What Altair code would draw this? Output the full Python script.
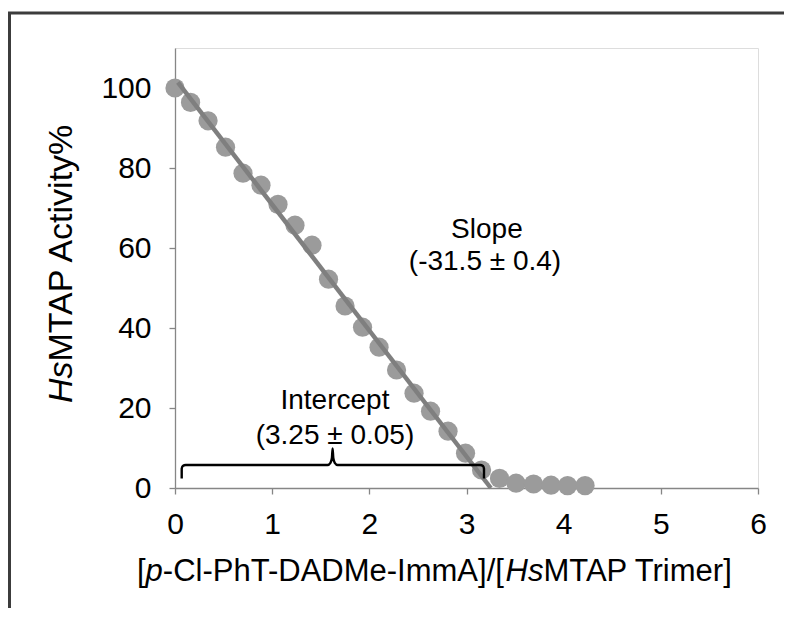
import altair as alt
import pandas as pd

# ---- data ----
ratio_x = [0, 0.16, 0.34, 0.52, 0.70, 0.885, 1.06, 1.235, 1.41, 1.58, 1.75, 1.93,
           2.10, 2.28, 2.46, 2.63, 2.81, 2.99, 3.155, 3.34, 3.51, 3.69, 3.87, 4.04, 4.22]
activity = [100, 96.4, 91.8, 85.2, 78.7, 75.7, 70.9, 65.7, 60.7, 52.2, 45.5, 40.2,
            35.2, 29.5, 23.7, 19.2, 14.2, 8.7, 4.5, 2.4, 1.2, 1.0, 0.7, 0.6, 0.6]
fit_x = [0.03, 3.25]
fit_y = [101.4, 0]
x_ticks = [0, 1, 2, 3, 4, 5, 6]
y_ticks = [0, 20, 40, 60, 80, 100]
bracket_x = [0.069, 0.069, 0.080, 0.11, 1.57, 1.60, 1.615, 1.622, 1.629, 1.644, 1.674,
             3.14, 3.17, 3.18, 3.18]
bracket_y = [2.4, 4.8, 5.5, 5.75, 5.75, 6.3, 7.5, 9.9, 7.5, 6.3, 5.75, 5.75, 5.5, 4.8, 2.4]
note_text = ["Slope", "(-31.5 \u00b1 0.4)", "Intercept", "(3.25 \u00b1 0.05)"]
note_x = [3.21, 3.19, 1.646, 1.646]
note_y = [64.5, 56.5, 21.75, 13.0]
x_title_parts = ["[", "p", "-Cl-PhT-DADMe-ImmA]/[", "Hs", "MTAP Trimer]"]
x_title_italic = [False, True, False, True, False]
y_title_parts = ["Hs", "MTAP Activity%"]
y_title_italic = [True, False]

FONT = "Liberation Sans, Arial, Helvetica, sans-serif"
W, H = 583, 440

# Arial advance widths (per 1000 em) for text layout of mixed-style titles
AW = {"[": 278, "]": 278, "/": 278, "-": 333, " ": 278, "%": 889, "A": 667, "C": 722,
      "D": 722, "H": 722, "I": 278, "M": 833, "P": 667, "T": 611, "c": 500, "e": 556,
      "h": 556, "i": 222, "l": 222, "m": 833, "p": 556, "r": 333, "s": 500, "t": 278,
      "v": 500, "y": 500}


def tw(s, size):
    return sum(AW.get(ch, 556) for ch in s) * size / 1000.0


# x title segments (horizontal)
XT_SIZE = 31
xt_start = -38
xt_y = 524
xt_rows = []
cur = xt_start
for part, it in zip(x_title_parts, x_title_italic):
    xt_rows.append({"t": part, "px": cur, "py": xt_y, "it": it})
    cur += tw(part, XT_SIZE)
xt_df = pd.DataFrame(xt_rows)

# y title segments (rotated, reading upward)
YT_SIZE = 34
yt_start = 355
yt_x = -113
yt_rows = []
cur = yt_start
for part, it in zip(y_title_parts, y_title_italic):
    yt_rows.append({"t": part, "px": yt_x, "py": cur, "it": it})
    cur -= tw(part, YT_SIZE)
yt_df = pd.DataFrame(yt_rows)

pts = pd.DataFrame({"x": ratio_x, "y": activity})
fit = pd.DataFrame({"x": fit_x, "y": fit_y})
br = pd.DataFrame({"x": bracket_x, "y": bracket_y, "i": list(range(len(bracket_x)))})
notes = pd.DataFrame({"t": note_text, "x": note_x, "y": note_y})

xscale = alt.Scale(domain=[0, 6], nice=False, zero=False)
yscale = alt.Scale(domain=[0, 110], nice=False, zero=False)

xaxis = alt.Axis(values=x_ticks, format="d", title=None, grid=False, labelFontSize=30,
                 labelFont=FONT, labelColor="#000000", domainColor="#868686",
                 tickColor="#868686", tickSize=6, labelPadding=15, domainWidth=1.3,
                 tickWidth=1.3, labelFlush=False)
yaxis = alt.Axis(values=y_ticks, format="d", title=None, grid=False, labelFontSize=30,
                 labelFont=FONT, labelColor="#000000", domainColor="#868686",
                 tickColor="#868686", tickSize=6, labelPadding=18, domainWidth=1.3,
                 tickWidth=1.3, labelFlush=False)

points = alt.Chart(pts).mark_circle(size=370, color="#9b9b9b", opacity=1).encode(
    x=alt.X("x:Q", scale=xscale, axis=xaxis),
    y=alt.Y("y:Q", scale=yscale, axis=yaxis),
)

line = alt.Chart(fit).mark_line(color="#7f7f7f", strokeWidth=4.5).encode(
    x=alt.X("x:Q", scale=xscale), y=alt.Y("y:Q", scale=yscale)
)

bracket = alt.Chart(br).mark_line(color="#000000", strokeWidth=2.4, interpolate="monotone").encode(
    x=alt.X("x:Q", scale=xscale), y=alt.Y("y:Q", scale=yscale), order=alt.Order("i:Q")
)

note_marks = alt.Chart(notes).mark_text(font=FONT, fontSize=28, color="#000000",
                                        align="center", baseline="middle").encode(
    x=alt.X("x:Q", scale=xscale), y=alt.Y("y:Q", scale=yscale), text="t:N"
)


def title_layer(df, italic, angle):
    sub = df[df["it"] == italic]
    kw = dict(font=FONT, fontSize=XT_SIZE if angle == 0 else YT_SIZE, color="#000000",
              align="left", baseline="middle")
    if italic:
        kw["fontStyle"] = "italic"
    if angle:
        kw["angle"] = angle
    return alt.Chart(sub).mark_text(**kw).encode(
        x=alt.X("px:Q", scale=None), y=alt.Y("py:Q", scale=None), text="t:N"
    )


frame_df = pd.DataFrame({"a": [0]})
frame_left = alt.Chart(frame_df).mark_rule(color="#3c3c3c", strokeWidth=3).encode(
    x=alt.value(-165.5), y=alt.value(-35), y2=alt.value(600)
)
frame_top = alt.Chart(frame_df).mark_rule(color="#3c3c3c", strokeWidth=3).encode(
    x=alt.value(-167), x2=alt.value(620), y=alt.value(-35)
)

chart = alt.layer(
    frame_left, frame_top,
    points, line, bracket, note_marks,
    title_layer(xt_df, False, 0), title_layer(xt_df, True, 0),
    title_layer(yt_df, False, 270), title_layer(yt_df, True, 270),
).properties(
    width=W, height=H,
    autosize=alt.AutoSizeParams(type="none"),
    padding={"left": 167, "top": 40, "right": 26, "bottom": 120},
).configure_view(stroke="transparent").configure(background="white")

chart.save("out.html", embed_options={"renderer": "svg", "actions": False})
